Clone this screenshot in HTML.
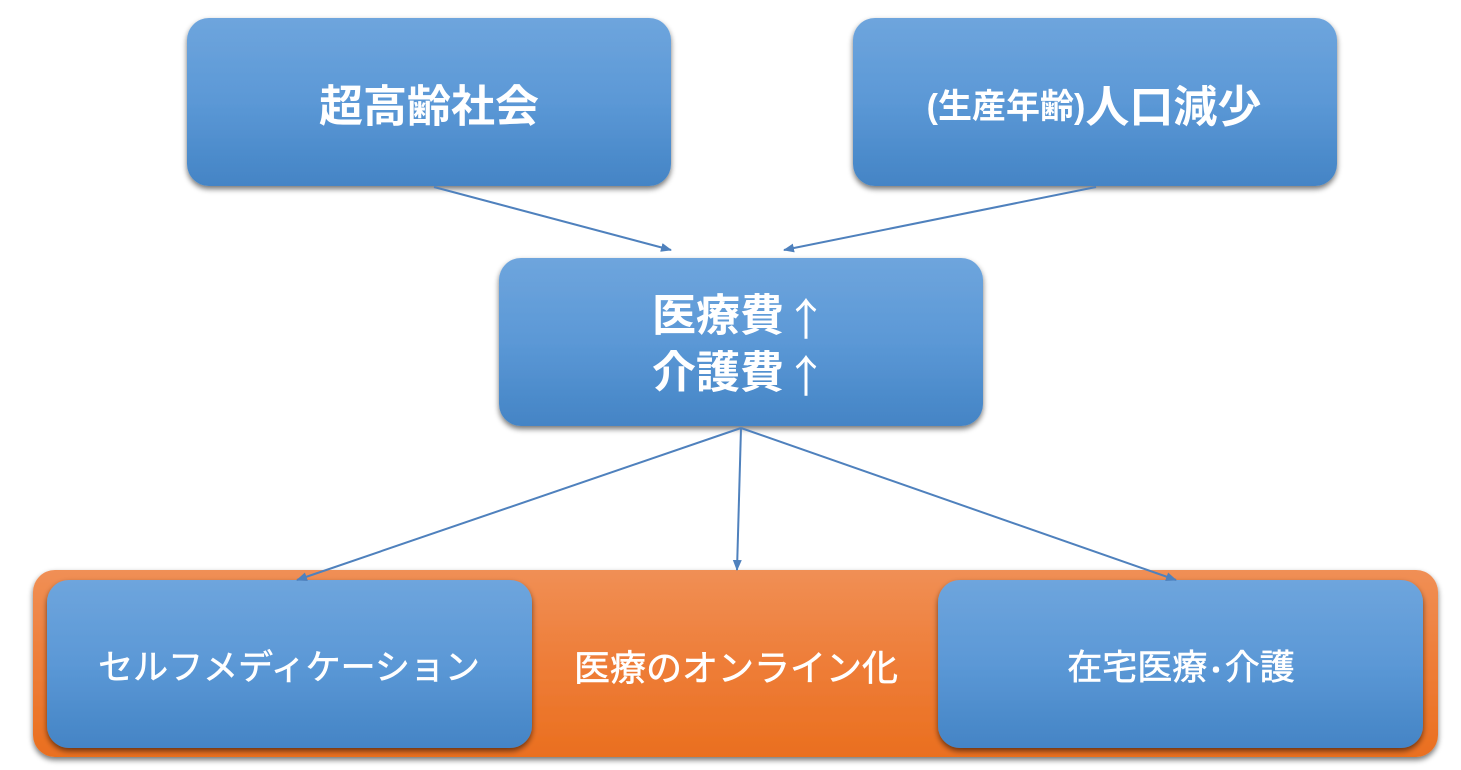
<!DOCTYPE html>
<html>
<head>
<meta charset="utf-8">
<style>
  html, body { margin: 0; padding: 0; background: #ffffff; }
  body { width: 1461px; height: 770px; overflow: hidden; }
  svg { display: block; }
  .t { font-family: "Liberation Sans", "Noto Sans CJK JP", sans-serif; fill: #ffffff; }
  .j { font-family: "Noto Sans CJK JP", sans-serif; }
  .r { stroke: #ffffff; stroke-width: 0.6; }
</style>
</head>
<body>
<svg width="1461" height="770" viewBox="0 0 1461 770" xmlns="http://www.w3.org/2000/svg">
  <defs>
    <linearGradient id="blue" x1="0" y1="0" x2="0" y2="1">
      <stop offset="0" stop-color="#6ea5dd"/>
      <stop offset="0.5" stop-color="#5b98d6"/>
      <stop offset="1" stop-color="#4484c5"/>
    </linearGradient>
    <linearGradient id="orange" x1="0" y1="0" x2="0" y2="1">
      <stop offset="0" stop-color="#f08f55"/>
      <stop offset="0.5" stop-color="#ee7d38"/>
      <stop offset="1" stop-color="#ea6f1f"/>
    </linearGradient>
    <filter id="sh" x="-10%" y="-10%" width="120%" height="130%">
      <feGaussianBlur in="SourceAlpha" stdDeviation="3"/>
      <feOffset dx="0" dy="3" result="b"/>
      <feComponentTransfer><feFuncA type="linear" slope="0.55"/></feComponentTransfer>
      <feMerge><feMergeNode/><feMergeNode in="SourceGraphic"/></feMerge>
    </filter>
    <marker id="ah" markerWidth="11" markerHeight="10" refX="10" refY="5" orient="auto" markerUnits="userSpaceOnUse">
      <path d="M0,0.5 L11,5 L0,9.5 Z" fill="#4f81bd"/>
    </marker>
  </defs>

  <!-- top boxes -->
  <rect x="187" y="18" width="484" height="168" rx="22" ry="22" fill="url(#blue)" filter="url(#sh)"/>
  <rect x="853" y="18" width="484" height="168" rx="22" ry="22" fill="url(#blue)" filter="url(#sh)"/>

  <!-- middle box -->
  <rect x="499" y="258" width="484" height="168" rx="22" ry="22" fill="url(#blue)" filter="url(#sh)"/>

  <!-- orange container -->
  <rect x="33" y="570" width="1405" height="187" rx="22" ry="22" fill="url(#orange)" filter="url(#sh)"/>

  <!-- bottom boxes -->
  <rect x="47" y="580" width="485" height="168" rx="22" ry="22" fill="url(#blue)" filter="url(#sh)"/>
  <rect x="938" y="580" width="485" height="168" rx="22" ry="22" fill="url(#blue)" filter="url(#sh)"/>

  <!-- connectors -->
  <g stroke="#4f81bd" stroke-width="2" fill="none">
    <line x1="434" y1="187" x2="671" y2="250" marker-end="url(#ah)"/>
    <line x1="1096" y1="187" x2="784" y2="250" marker-end="url(#ah)"/>
    <line x1="741" y1="428" x2="297" y2="580" marker-end="url(#ah)"/>
    <line x1="741" y1="428" x2="737" y2="570" marker-end="url(#ah)"/>
    <line x1="741" y1="428" x2="1176" y2="580" marker-end="url(#ah)"/>
  </g>

  <!-- labels -->
  <text class="t" x="429" y="107" font-size="44" font-weight="bold" text-anchor="middle" dominant-baseline="central">超高齢社会</text>

  <text class="t" x="1094" y="107" text-anchor="middle" dominant-baseline="central" font-weight="bold"><tspan font-size="34">(生産年齢)</tspan><tspan font-size="44">人口減少</tspan></text>

  <text class="t" x="740" y="316" font-size="44" font-weight="bold" text-anchor="middle" dominant-baseline="central">医療費<tspan class="j" font-weight="normal">↑</tspan></text>
  <text class="t" x="740" y="373" font-size="44" font-weight="bold" text-anchor="middle" dominant-baseline="central">介護費<tspan class="j" font-weight="normal">↑</tspan></text>

  <text class="t r" x="289" y="668" font-size="35" text-anchor="middle" dominant-baseline="central">セルフメディケーション</text>
  <text class="t r" x="736" y="668" font-size="36" text-anchor="middle" dominant-baseline="central">医療のオンライン化</text>
  <text class="t r" x="1181" y="668" font-size="35" text-anchor="middle" dominant-baseline="central">在宅医療<tspan class="j">･</tspan>介護</text>
</svg>
</body>
</html>
